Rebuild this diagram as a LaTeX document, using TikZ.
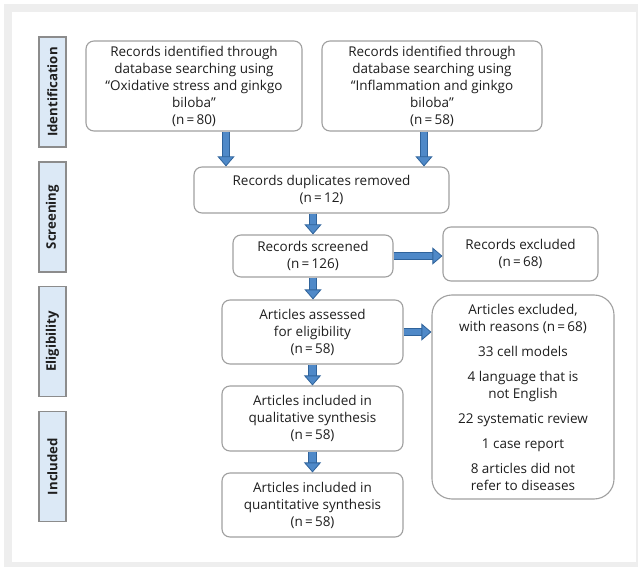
\documentclass[tikz,border=0pt]{standalone}
\usepackage{fontspec}
\setmainfont{Open Sans}
\usepackage{xcolor}
\definecolor{framegray}{RGB}{238,238,238}
\definecolor{boxedge}{RGB}{160,160,160}
\definecolor{sideblue}{RGB}{220,233,246}
\definecolor{sideedge}{RGB}{140,140,140}
\definecolor{flowblue}{RGB}{79,137,200}
\definecolor{flowedge}{RGB}{47,99,155}
\definecolor{inktext}{RGB}{30,30,30}
\usepackage{tikz}
\usetikzlibrary{arrows.meta,positioning,calc}

\begin{document}
\begin{tikzpicture}[x=1pt, y=-1pt,
    every node/.style={font=\fontsize{13.5}{17}\selectfont, text=inktext},
    box/.style={rectangle, rounded corners=8pt, draw=boxedge, line width=1.1pt, fill=white, align=center, inner sep=2pt},
    phase/.style={rectangle, draw=sideedge, line width=1.1pt, fill=sideblue, rotate=90, minimum width=110pt, minimum height=27pt, inner sep=0pt, font=\bfseries\fontsize{13.2}{15}\selectfont},
    flow/.style={draw=flowblue, line width=6.5pt, -{Triangle[length=10pt, width=17pt, line width=0.8pt, color=flowedge, fill=flowblue]},
        preaction={draw=flowedge, line width=8.2pt, arrows=-, shorten >=9pt}}]
    \useasboundingbox (0,0) rectangle (638,567);
    \fill[framegray] (4,4) rectangle (638,567);
    \fill[white] (12,12) rectangle (636,562);

    \node[phase] (ph1) at (52.5,92) {Identification};
    \node[phase] (ph2) at (52.5,217) {Screening};
    \node[phase] (ph3) at (52.5,341.5) {Eligibility};
    \node[phase] (ph4) at (52.5,466.5) {Included};

    \node[box, minimum width=216pt, minimum height=90pt] (idox) at (194,86) {Records identified through\\database searching using\\“Oxidative stress and ginkgo\\biloba”\\(n\,=\,80)};
    \node[box, minimum width=220pt, minimum height=90pt] (idinf) at (432,86) {Records identified through\\database searching using\\“Inflammation and ginkgo\\biloba”\\(n\,=\,58)};
    \node[box, minimum width=255pt, minimum height=46pt] (dup) at (321.5,190) {Records duplicates removed\\(n\,=\,12)};
    \node[box, minimum width=160pt, minimum height=42pt] (scr) at (313,256) {Records screened\\(n\,=\,126)};
    \node[box, minimum width=155pt, minimum height=54pt] (recex) at (520.5,254) {Records excluded\\(n\,=\,68)};
    \node[box, minimum width=181pt, minimum height=64pt] (elig) at (312.5,332) {Articles assessed\\for eligibility\\(n\,=\,58)};
    \node[box, rounded corners=20pt, minimum width=182pt, minimum height=204pt] (artex) at (523,397) {Articles excluded,\\with reasons (n\,=\,68)\\[8pt]33 cell models\\[8pt]4 language that is\\not English\\[8pt]22 systematic review\\[8pt]1 case report\\[8pt]8 articles did not\\refer to diseases};
    \node[box, minimum width=181pt, minimum height=65pt] (qual) at (312.5,418.5) {Articles included in\\qualitative synthesis\\(n\,=\,58)};
    \node[box, minimum width=181pt, minimum height=64pt] (quant) at (312.5,505) {Articles included in\\quantitative synthesis\\(n\,=\,58)};

    % block arrows between stages
    \coordinate (c1) at (226,0);
    \coordinate (c2) at (424,0);
    \draw[flow] (idox.south -| c1) -- (dup.north -| c1);
    \draw[flow] (idinf.south -| c2) -- (dup.north -| c2);
    \draw[flow] (dup.south -| scr.north) -- (scr.north);
    \draw[flow] (scr.south) -- (scr.south |- elig.north);
    \draw[flow] (elig.south) -- (qual.north);
    \draw[flow] (qual.south) -- (quant.north);
    \draw[flow] (scr.east) -- (scr.east -| recex.west);
    \draw[flow] (elig.east) -- (elig.east -| artex.west);
\end{tikzpicture}
\end{document}
